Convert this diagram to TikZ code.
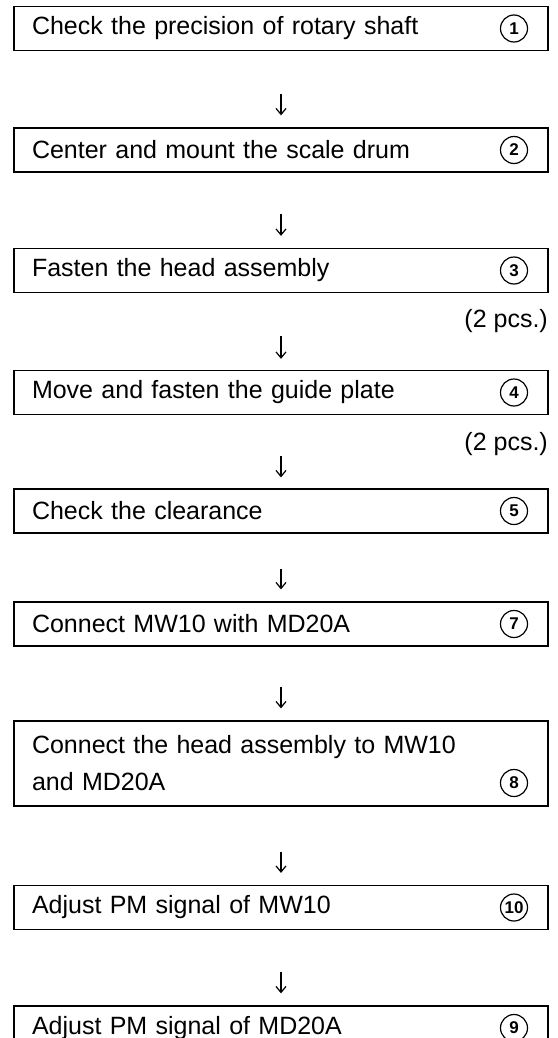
\documentclass[tikz,border=0pt]{standalone}
\usepackage{fontspec}
\setmainfont{Liberation Sans}
\usetikzlibrary{arrows.meta}

\tikzset{
  stepbox/.style={draw, line width=1.3pt, text width=498pt, inner xsep=18pt,
    inner ysep=0pt, minimum height=44pt, align=left},
  numcirc/.style={circle, draw, line width=1.2pt, minimum size=27pt, inner sep=0pt,
    font=\fontsize{17}{17}\selectfont\bfseries},
  flow/.style={-{Straight Barb[length=6pt,width=10pt]}, line width=1.2pt},
  pcs/.style={anchor=east, inner sep=0pt}
}

\begin{document}
\begin{tikzpicture}[x=1pt, y=-1pt, font=\fontsize{25}{37}\selectfont]
  \useasboundingbox (0,0) rectangle (557,1038);
  % steps, one box each
  \foreach \n/\y/\txt/\num in {
      1/28.5/Check the precision of rotary shaft/1,
      2/150/Center and mount the scale drum/2,
      3/270.5/Fasten the head assembly/3,
      4/392.5/Move and fasten the guide plate/4,
      5/511/Check the clearance/5,
      6/624/Connect MW10 with MD20A/7,
      8/907.5/Adjust PM signal of MW10/10,
      9/1028/Adjust PM signal of MD20A/9}
    {\node[stepbox] (s\n) at (281,\y) {\txt};
     \node[numcirc] (c\n) at (514,\y) {\num};}
  \node[stepbox, minimum height=85pt] (s7) at (281,763.5)
    {Connect the head assembly to MW10\\and MD20A};
  \node[numcirc] (c7) at (514,783) {8};
  \node[pcs] (p3) at (548,321) {(2 pcs.)};
  \node[pcs] (p4) at (548,444) {(2 pcs.)};
  % arrows between the steps
  \foreach \a/\b/\s/\e in {1/2/43/12, 2/3/41/12, 3/4/43/11, 4/5/41/11,
      5/6/35/12, 6/7/40/12, 7/8/45/12, 8/9/42/12}
    \draw[flow, shorten <=\s pt, shorten >=\e pt, xshift=1.5pt]
      (s\a.south) -- (s\b.north);
\end{tikzpicture}
\end{document}
